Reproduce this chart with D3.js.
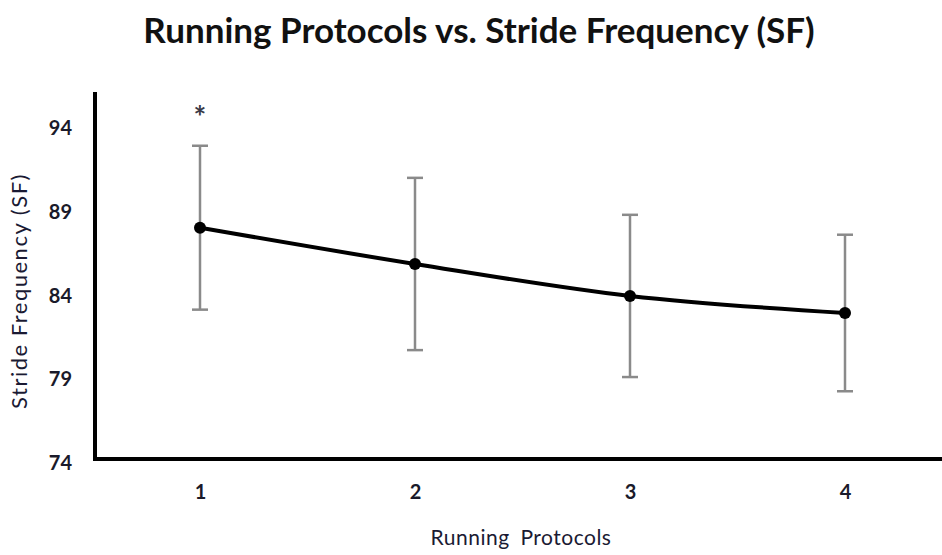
<!DOCTYPE html>
<html>
<head>
<meta charset="utf-8">
<script src="https://cdn.jsdelivr.net/npm/d3@7"></script>
<style>
  body { margin: 0; background: #fff; }
  text { font-family: Lato, "Open Sans", sans-serif; }
</style>
</head>
<body>
<div id="chart"></div>
<script>
// data
const protocols = [1, 2, 3, 4]
const strideFreq = [87.83, 85.66, 83.75, 82.73]
const errSF = [4.9, 5.15, 4.85, 4.68]
const yTicks = [74, 79, 84, 89, 94]
const marked = [1] // protocols flagged with *

const W = 942, H = 555

const svg = d3.select('#chart')
    .append('svg')
    .attr('width', W)
    .attr('height', H)

const xScale = d3.scaleLinear().domain([1, 4]).range([200, 845])
const yScale = d3.scaleLinear().domain([74, 94]).range([459, 124.5])

//title
svg.append('text')
    .attr('x', 479)
    .attr('y', 43)
    .attr('text-anchor', 'middle')
    .style('font-size', '35px')
    .style('font-weight', 'bold')
    .style('fill', '#111')
    .text('Running Protocols vs. Stride Frequency (SF)')

//y axis (labels only, line drawn below)
const yaxis = d3.axisLeft(yScale).tickValues(yTicks).tickSize(0).tickPadding(0)
const gy = svg.append('g')
    .attr('transform', 'translate(72,4)')
    .call(yaxis)
gy.select('.domain').remove()
gy.selectAll('text')
    .style('font-size', '20px')
    .style('font-weight', 'bold')
    .style('font-family', 'Lato, sans-serif')
    .style('fill', '#1a1a2a')

//x axis labels
const xaxis = d3.axisBottom(xScale).tickValues(protocols).tickFormat(d3.format('d')).tickSize(0).tickPadding(0)
const gx = svg.append('g')
    .attr('transform', 'translate(0,485)')
    .call(xaxis)
gx.select('.domain').remove()
gx.selectAll('text')
    .style('font-size', '20px')
    .style('font-weight', 'bold')
    .style('font-family', 'Lato, sans-serif')
    .style('fill', '#1a1a2a')

//axis lines
svg.append('line')
    .attr('x1', 95).attr('x2', 95)
    .attr('y1', 92).attr('y2', yScale(74) + 2)
    .attr('stroke', '#000').attr('stroke-width', 4)
svg.append('line')
    .attr('x1', 93).attr('x2', W)
    .attr('y1', yScale(74)).attr('y2', yScale(74))
    .attr('stroke', '#000').attr('stroke-width', 4)

//axis titles
svg.append('text')
    .attr('transform', 'translate(27,291) rotate(-90)')
    .attr('text-anchor', 'middle')
    .style('font-size', '22px')
    .style('letter-spacing', '1.5px')
    .style('fill', '#1a1a33')
    .text('Stride Frequency (SF)')
svg.append('text')
    .attr('x', 521)
    .attr('y', 545)
    .attr('text-anchor', 'middle')
    .style('font-size', '21px')
    .style('letter-spacing', '0.5px')
    .style('word-spacing', '5px')
    .style('fill', '#1a1a33')
    .text('Running Protocols')

const pts = protocols.map((p, i) => ({ p: p, v: strideFreq[i], e: errSF[i] }))

//error bars
const eb = svg.append('g').attr('stroke', '#8a8a8a').attr('stroke-width', 2.5)
pts.forEach(d => {
    const x = xScale(d.p)
    eb.append('line')
        .attr('x1', x).attr('x2', x)
        .attr('y1', yScale(d.v + d.e)).attr('y2', yScale(d.v - d.e))
    eb.append('line')
        .attr('x1', x - 8).attr('x2', x + 8)
        .attr('y1', yScale(d.v + d.e)).attr('y2', yScale(d.v + d.e))
    eb.append('line')
        .attr('x1', x - 8).attr('x2', x + 8)
        .attr('y1', yScale(d.v - d.e)).attr('y2', yScale(d.v - d.e))
})

//line
const line = d3.line()
    .x(d => xScale(d.p))
    .y(d => yScale(d.v))
    .curve(d3.curveMonotoneX)
svg.append('path')
    .datum(pts)
    .attr('fill', 'none')
    .attr('stroke', '#000')
    .attr('stroke-width', 4)
    .attr('stroke-linejoin', 'round')
    .attr('d', line)

svg.selectAll('circle.pt')
    .data(pts)
    .enter()
    .append('circle')
    .attr('class', 'pt')
    .attr('cx', d => xScale(d.p))
    .attr('cy', d => yScale(d.v))
    .attr('r', 6)
    .attr('fill', '#000')

//significance marker
svg.selectAll('text.star')
    .data(pts.filter(d => marked.includes(d.p)))
    .enter()
    .append('text')
    .attr('class', 'star')
    .attr('x', d => xScale(d.p))
    .attr('y', d => yScale(d.v + d.e) - 18)
    .attr('text-anchor', 'middle')
    .style('font-size', '30px')
    .style('font-weight', 'bold')
    .style('fill', '#3a3a48')
    .text('*')
</script>
</body>
</html>
